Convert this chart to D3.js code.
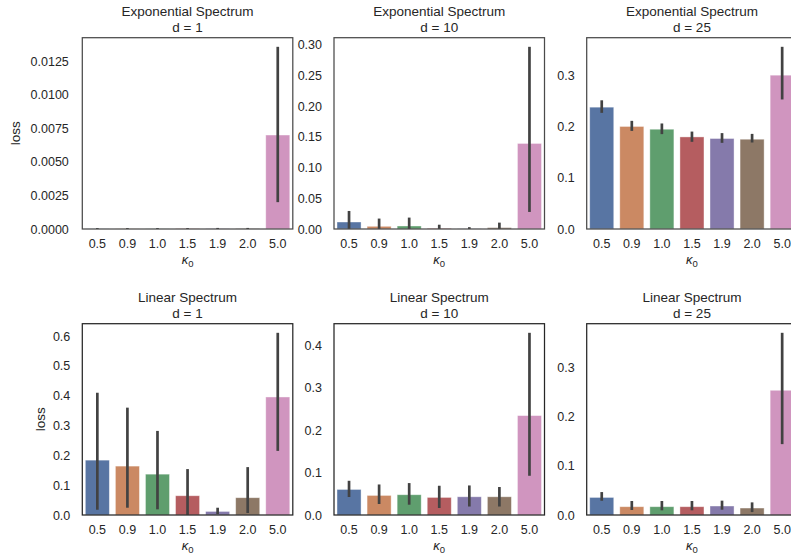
<!DOCTYPE html>
<html>
<head>
<meta charset="utf-8">
<script src="https://cdn.jsdelivr.net/npm/d3@7"></script>
<style>
  html, body { margin: 0; padding: 0; background: #fff; }
  svg { display: block; }
  text { font-family: "Liberation Sans", Arial, sans-serif; fill: #262626; }
</style>
</head>
<body>
<svg id="chart" width="791" height="556"></svg>
<script>
// ---- data ----
const categories = ["0.5", "0.9", "1.0", "1.5", "1.9", "2.0", "5.0"];
const barColors = ["#5875A3", "#CB8963", "#5F9E6E", "#B55D60", "#857AAB", "#8D7866", "#D095BF"];

// Exponential spectrum, d = 1
const expD1Mean = [0.00001, 0.00001, 0.00001, 0.00002, 0.00002, 0.00003, 0.0070];
const expD1Lo   = [0.0, 0.0, 0.0, 0.0, 0.0, 0.0, 0.0020];
const expD1Hi   = [0.00007, 0.00007, 0.00007, 0.00007, 0.00008, 0.00008, 0.01357];
const expD1Ticks = [0, 0.0025, 0.005, 0.0075, 0.01, 0.0125];

// Exponential spectrum, d = 10
const expD10Mean = [0.0114, 0.0044, 0.0049, 0.0011, 0.0003, 0.0023, 0.1395];
const expD10Lo   = [0.0, 0.0, 0.0, 0.0, 0.0, 0.0, 0.0278];
const expD10Hi   = [0.0294, 0.0170, 0.0186, 0.0070, 0.0030, 0.0104, 0.2970];
const expD10Ticks = [0, 0.05, 0.10, 0.15, 0.20, 0.25, 0.30];

// Exponential spectrum, d = 25
const expD25Mean = [0.2376, 0.2000, 0.1946, 0.1796, 0.1765, 0.1751, 0.3000];
const expD25Lo   = [0.2265, 0.1913, 0.1850, 0.1700, 0.1680, 0.1687, 0.2526];
const expD25Hi   = [0.2510, 0.2109, 0.2058, 0.1900, 0.1870, 0.1855, 0.3553];
const expD25Ticks = [0, 0.1, 0.2, 0.3];

// Linear spectrum, d = 1
const linD1Mean = [0.184, 0.164, 0.137, 0.0646, 0.012, 0.058, 0.3958];
const linD1Lo   = [0.0177, 0.0244, 0.019, 0.001, 0.003, 0.0067, 0.215];
const linD1Hi   = [0.410, 0.360, 0.282, 0.154, 0.0244, 0.1606, 0.611];
const linD1Ticks = [0, 0.1, 0.2, 0.3, 0.4, 0.5, 0.6];

// Linear spectrum, d = 10
const linD10Mean = [0.0603, 0.0462, 0.0478, 0.0415, 0.0430, 0.0430, 0.2345];
const linD10Lo   = [0.0424, 0.0259, 0.0243, 0.0165, 0.0200, 0.0200, 0.0925];
const linD10Hi   = [0.0807, 0.0720, 0.0753, 0.0690, 0.0697, 0.0660, 0.4297];
const linD10Ticks = [0, 0.1, 0.2, 0.3, 0.4];

// Linear spectrum, d = 25
const linD25Mean = [0.0358, 0.0169, 0.0169, 0.0169, 0.0183, 0.0142, 0.254];
const linD25Lo   = [0.0290, 0.0102, 0.0095, 0.0095, 0.0108, 0.0060, 0.1443];
const linD25Hi   = [0.0467, 0.0285, 0.0285, 0.0285, 0.0292, 0.0257, 0.371];
const linD25Ticks = [0, 0.1, 0.2, 0.3];

const panelTitles = ["Exponential Spectrum", "Exponential Spectrum", "Exponential Spectrum",
                     "Linear Spectrum", "Linear Spectrum", "Linear Spectrum"];
const panelSubtitles = ["d = 1", "d = 10", "d = 25", "d = 1", "d = 10", "d = 25"];
const tickFormats = [".4f", ".2f", ".1f", ".1f", ".1f", ".1f"];
const yLabel = "loss";

// ---- layout ----
const svg = d3.select("#chart");
const colLefts = [82.3, 334, 586.7];
const rowTops = [37.7, 323.7];
const pw = 210.5, ph = 191.3;

const panels = [
  {mean: expD1Mean, lo: expD1Lo, hi: expD1Hi, ticks: expD1Ticks},
  {mean: expD10Mean, lo: expD10Lo, hi: expD10Hi, ticks: expD10Ticks},
  {mean: expD25Mean, lo: expD25Lo, hi: expD25Hi, ticks: expD25Ticks},
  {mean: linD1Mean, lo: linD1Lo, hi: linD1Hi, ticks: linD1Ticks},
  {mean: linD10Mean, lo: linD10Lo, hi: linD10Hi, ticks: linD10Ticks},
  {mean: linD25Mean, lo: linD25Lo, hi: linD25Hi, ticks: linD25Ticks}
];

panels.forEach((p, i) => {
  const row = Math.floor(i / 3), col = i % 3;
  const x0 = colLefts[col], y0 = rowTops[row];
  const g = svg.append("g").attr("transform", `translate(${x0},${y0})`);

  const x = d3.scaleBand().domain(categories).range([0, pw]).paddingInner(0.2).paddingOuter(0.1);
  const ymax = d3.max(p.hi) * 1.05;
  const y = d3.scaleLinear().domain([0, ymax]).range([ph, 0]);

  const rows = categories.map((c, k) => ({c, m: p.mean[k], lo: p.lo[k], hi: p.hi[k], color: barColors[k]}));

  // bars
  g.selectAll("rect.bar").data(rows).join("rect")
    .attr("class", "bar")
    .attr("x", d => x(d.c))
    .attr("width", x.bandwidth())
    .attr("y", d => y(d.m))
    .attr("height", d => ph - y(d.m))
    .attr("fill", d => d.color)
    .attr("stroke", "#ffffff")
    .attr("stroke-opacity", 0.5)
    .attr("stroke-width", 0.8);

  // error bars
  g.selectAll("line.err").data(rows).join("line")
    .attr("class", "err")
    .attr("x1", d => x(d.c) + x.bandwidth() / 2)
    .attr("x2", d => x(d.c) + x.bandwidth() / 2)
    .attr("y1", d => y(d.lo))
    .attr("y2", d => y(d.hi))
    .attr("stroke", "#424242")
    .attr("stroke-width", 2.7);

  // y axis
  const yAxis = d3.axisLeft(y).tickValues(p.ticks).tickFormat(d3.format(tickFormats[i]))
    .tickSize(0).tickPadding(i === 0 ? 13.5 : 12);
  const ya = g.append("g").call(yAxis);
  ya.select(".domain").remove();
  ya.selectAll("text").style("font-size", "12.5px").style("font-family", "'Liberation Sans', Arial, sans-serif").attr("fill", "#262626");

  // x axis
  const xAxis = d3.axisBottom(x).tickSize(0).tickPadding(10);
  const xa = g.append("g").attr("transform", `translate(0,${ph})`).call(xAxis);
  xa.select(".domain").remove();
  xa.selectAll("text").style("font-size", "12.5px").style("font-family", "'Liberation Sans', Arial, sans-serif").attr("fill", "#262626");

  // frame
  g.append("rect")
    .attr("x", 0).attr("y", 0).attr("width", pw).attr("height", ph)
    .attr("fill", "none").attr("stroke", row === 0 ? "#4a4a4a" : "#262626").attr("stroke-width", 1.25);

  // x label (kappa_0)
  const xl = g.append("text")
    .attr("x", pw / 2).attr("y", ph + 35)
    .attr("text-anchor", "middle")
    .style("font-size", "13px");
  xl.append("tspan").text("κ").style("font-style", "italic");
  xl.append("tspan").text("0").attr("dy", 3).style("font-size", "9.5px");

  // titles
  g.append("text")
    .attr("x", pw / 2).attr("y", -21.6)
    .attr("text-anchor", "middle")
    .style("font-size", "13.5px")
    .text(panelTitles[i]);
  g.append("text")
    .attr("x", pw / 2).attr("y", -6)
    .attr("text-anchor", "middle")
    .style("font-size", "13.5px")
    .text(panelSubtitles[i]);

  // y label
  if (col === 0) {
    const lx = row === 0 ? -62 : -37;
    g.append("text")
      .attr("transform", `translate(${lx},${ph / 2}) rotate(-90)`)
      .attr("text-anchor", "middle")
      .style("font-size", "13.5px")
      .text(yLabel);
  }
});
</script>
</body>
</html>
